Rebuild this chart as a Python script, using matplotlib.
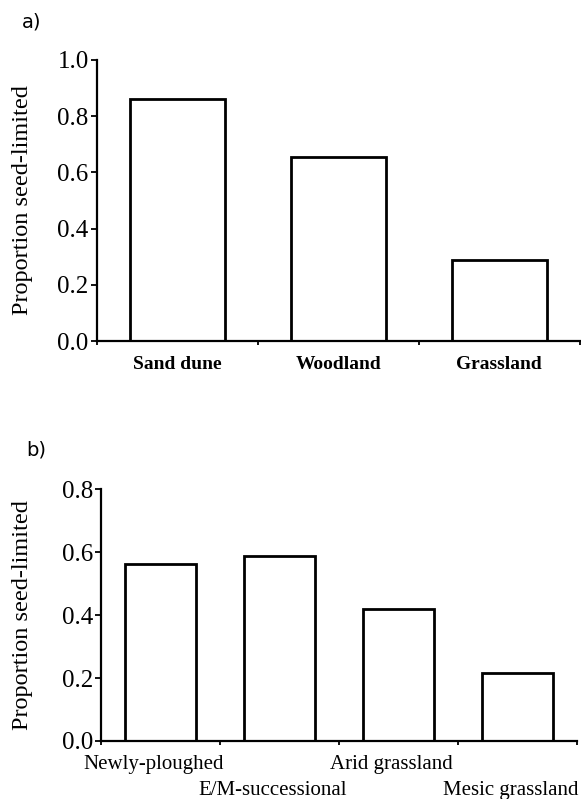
import numpy as np
import matplotlib
matplotlib.use('Agg')
import matplotlib.pyplot as plt
import matplotlib.transforms as mtransforms

plt.rcParams['font.family'] = ['Liberation Serif', 'DejaVu Serif']

# 数据
habitats_a = ['Sand dune', 'Woodland', 'Grassland']
values_a = [0.86, 0.655, 0.29]

habitats_b = ['Newly-ploughed', 'E/M-successional', 'Arid grassland', 'Mesic grassland']
values_b = [0.562, 0.587, 0.419, 0.216]

yticks_a = [0.0, 0.2, 0.4, 0.6, 0.8, 1.0]
yticks_b = [0.0, 0.2, 0.4, 0.6, 0.8]


def style_axes(ax, n, yticks, ymax):
    ax.spines['top'].set_visible(False)
    ax.spines['right'].set_visible(False)
    ax.spines['left'].set_linewidth(1.6)
    ax.spines['bottom'].set_linewidth(1.6)
    ax.set_xlim(-0.5, n - 0.5)
    ax.set_ylim(0, ymax)
    ax.set_yticks(yticks)
    ax.set_yticklabels([f'{t:.1f}' for t in yticks], fontsize=18)
    ax.tick_params(axis='y', direction='out', length=4, width=1.3, pad=2)
    # 类别边界刻度
    ax.set_xticks(np.arange(n + 1) - 0.5)
    ax.set_xticklabels([''] * (n + 1))
    ax.tick_params(axis='x', which='major', direction='out', length=3, width=1.3)
    ax.set_ylabel('Proportion seed-limited', fontsize=17.5)


fig = plt.figure(figsize=(5.81, 7.99), dpi=100)

# a)
ax1 = fig.add_axes([0.167, 0.573, 0.831, 0.352])
ax1.bar(range(len(values_a)), values_a, width=0.59, color='white',
        edgecolor='black', linewidth=2.0)
style_axes(ax1, len(values_a), yticks_a, 1.0)
ax1.set_xticks(range(len(habitats_a)), minor=True)
ax1.set_xticklabels(habitats_a, minor=True, fontsize=14, fontweight='bold')
ax1.tick_params(axis='x', which='minor', length=0, pad=11)
ax1.yaxis.set_label_coords(-0.132, 0.5)
fig.text(0.038, 0.972, 'a)', fontsize=14, family='DejaVu Sans', va='center')

# b)
ax2 = fig.add_axes([0.174, 0.0726, 0.819, 0.315])
ax2.bar(range(len(values_b)), values_b, width=0.59, color='white',
        edgecolor='black', linewidth=2.0)
style_axes(ax2, len(values_b), yticks_b, 0.8)
ax2.set_xticks(range(len(habitats_b)), minor=True)
ax2.set_xticklabels(habitats_b, minor=True, fontsize=15)
ax2.tick_params(axis='x', which='minor', length=0, pad=10)
# 交错标签，稍向左偏
shift = mtransforms.ScaledTranslation(-7 / 100, 0, fig.dpi_scale_trans)
for i, lbl in enumerate(ax2.get_xticklabels(minor=True)):
    lbl.set_transform(lbl.get_transform() + shift)
    if i % 2 == 1:
        lbl.set_y(-0.105)
ax2.yaxis.set_label_coords(-0.143, 0.5)
fig.text(0.046, 0.437, 'b)', fontsize=14, family='DejaVu Sans', va='center')

fig.savefig('out.png', dpi=100)
